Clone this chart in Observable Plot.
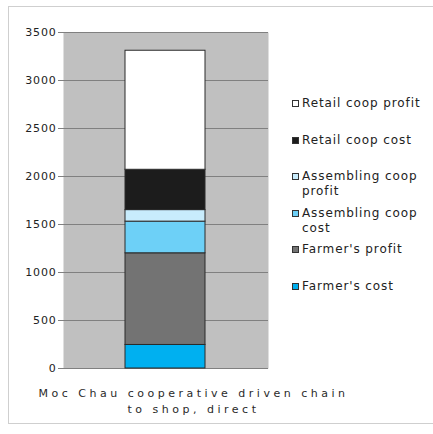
<!DOCTYPE html>
<html>
<head>
<meta charset="utf-8">
<script src="https://cdn.jsdelivr.net/npm/d3@7"></script>
<script src="https://cdn.jsdelivr.net/npm/@observablehq/plot@0.6"></script>
<style>
  html, body { margin: 0; padding: 0; background: #fff; }
  #wrap { position: relative; width: 433px; height: 434px; overflow: hidden; font-family: "DejaVu Sans", sans-serif; }
  #border { position: absolute; left: 8px; top: 6px; width: 440px; height: 416px;
            border-left: 1px solid #cfcfcf; border-top: 1px solid #cfcfcf; border-bottom: 1px solid #cfcfcf; }
  #chart { position: absolute; left: 0; top: 0; }
  #chart g[aria-label="x-axis tick label"] text { letter-spacing: 3.5px; }
  #chart g[aria-label="y-axis tick label"] text { letter-spacing: 0.8px; }
  #legend { position: absolute; left: 292px; top: 96px; width: 141px; font-size: 12px; color: #222; letter-spacing: 0.9px; }
  .item { position: relative; height: 36.5px; }
  .swatch { position: absolute; left: 0; top: 4px; width: 5px; height: 5px; border: 1px solid #333; }
  .label { position: absolute; left: 10px; top: 0; width: 138px; line-height: 15px; }
</style>
</head>
<body>
<div id="wrap">
  <div id="border"></div>
  <div id="chart"></div>
  <div id="legend"></div>
</div>
<script>
// Cost build-up along the value chain, stacked from the farm gate upward
const categories = ["Moc Chau cooperative driven chain\nto shop, direct"];
const seriesNames = ["Farmer's cost", "Farmer's profit", "Assembling coop cost", "Assembling coop profit", "Retail coop cost", "Retail coop profit"];
const seriesValues = [245, 955, 330, 120, 420, 1240];
const seriesColors = ["#00b0f0", "#737373", "#6dd0f7", "#c8ecfc", "#1c1c1c", "#ffffff"];
const yTicks = [0, 500, 1000, 1500, 2000, 2500, 3000, 3500];

const rows = seriesNames.map((s, i) => ({category: categories[0], series: s, value: seriesValues[i]}));

const chart = Plot.plot({
  width: 433,
  height: 434,
  marginLeft: 63,
  marginRight: 165,
  marginTop: 32,
  marginBottom: 66,
  style: {fontFamily: "DejaVu Sans, sans-serif", fontSize: "11px", color: "#222", background: "transparent", overflow: "visible"},
  x: {domain: categories, padding: 0.434, label: null},
  y: {domain: [0, 3500], label: null},
  color: {domain: seriesNames, range: seriesColors},
  marks: [
    Plot.frame({fill: "#c0c0c0", stroke: null}),
    Plot.gridY(yTicks, {stroke: "#808080", strokeOpacity: 1}),
    Plot.axisY(yTicks, {tickSize: 5, tickPadding: 2, tickFormat: (d) => String(d), stroke: "#808080", fill: "#222", label: null}),
    Plot.axisX({tickSize: 0, tickPadding: 17, dx: 28, lineHeight: 1.45, fill: "#2a2a2a", label: null}),
    Plot.barY(rows, {x: "category", y: "value", fill: "series", stroke: "#2a2a2a", strokeWidth: 1, order: null})
  ]
});
document.getElementById("chart").appendChild(chart);

// Legend, top of the stack listed first
const legend = document.getElementById("legend");
seriesNames.slice().reverse().forEach((name) => {
  const item = document.createElement("div");
  item.className = "item";
  const sw = document.createElement("span");
  sw.className = "swatch";
  sw.style.background = seriesColors[seriesNames.indexOf(name)];
  const lb = document.createElement("span");
  lb.className = "label";
  lb.textContent = name;
  item.appendChild(sw);
  item.appendChild(lb);
  legend.appendChild(item);
});
</script>
</body>
</html>
